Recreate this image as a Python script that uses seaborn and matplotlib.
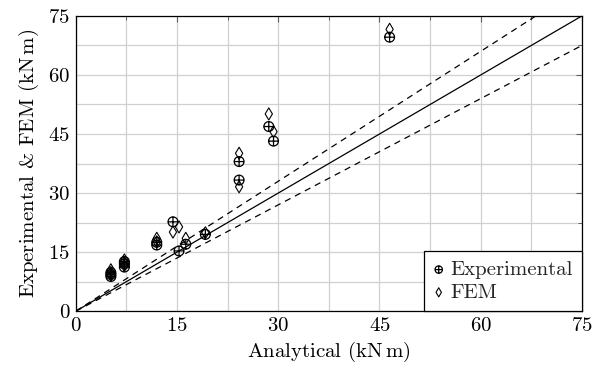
import numpy as np
import pandas as pd
import seaborn as sns
import matplotlib
matplotlib.use("Agg")
import matplotlib.pyplot as plt
from matplotlib.ticker import MultipleLocator
from matplotlib.path import Path

analytical = [5.2, 5.2, 5.2, 7.2, 7.2, 7.2, 12.0, 12.0, 14.4, 15.3, 16.3, 19.2, 24.2, 24.2, 28.6, 29.3, 46.5]
experimental = [8.8, 9.3, 9.8, 11.2, 12.0, 12.6, 16.8, 17.5, 22.7, 15.3, 17.0, 19.5, 38.0, 33.3, 46.9, 43.2, 69.6]
fem = [9.2, 9.8, 10.5, 11.6, 12.4, 13.0, 17.6, 18.5, 20.1, 21.4, 18.5, 19.9, 40.1, 31.6, 50.1, 45.6, 71.6]
ref_x = [0, 75]
ratios = [1.0, 1.1, 0.9]

sns.set_theme(style="whitegrid")
plt.rcParams['font.family'] = ['cmr10', 'DejaVu Serif']
plt.rcParams['mathtext.fontset'] = 'cm'
plt.rcParams['axes.formatter.use_mathtext'] = True

oplus = Path.make_compound_path(
    Path.unit_circle(),
    Path([[-1, 0], [1, 0]], [Path.MOVETO, Path.LINETO]),
    Path([[0, -1], [0, 1]], [Path.MOVETO, Path.LINETO]),
)

fig = plt.figure(figsize=(5.92, 3.70), dpi=100)
ax = fig.add_axes([0.128, 0.159, 0.855, 0.798])

for r in ratios:
    ys = [x * r for x in ref_x]
    sns.lineplot(x=ref_x, y=ys, ax=ax, color='black', lw=0.9,
                 linestyle='-' if r == 1.0 else (0, (5, 4)), zorder=2)

df = pd.DataFrame({'Analytical': analytical, 'Experimental': experimental, 'FEM': fem})
sns.scatterplot(data=df, x='Analytical', y='FEM', ax=ax, marker='d', s=38,
                facecolor='none', edgecolor='black', linewidth=0.8, label='FEM', zorder=3)
sns.scatterplot(data=df, x='Analytical', y='Experimental', ax=ax, marker=oplus, s=50,
                facecolor='none', edgecolor='black', linewidth=0.9, label='Experimental', zorder=4)

ax.set_xlim(0, 75)
ax.set_ylim(0, 75)
ax.xaxis.set_major_locator(MultipleLocator(15))
ax.yaxis.set_major_locator(MultipleLocator(15))
ax.xaxis.set_minor_locator(MultipleLocator(7.5))
ax.yaxis.set_minor_locator(MultipleLocator(7.5))
ax.grid(True, which='both', color='#d0d0d0', lw=0.9)
ax.set_axisbelow(True)
for s in ax.spines.values():
    s.set_color('black')
    s.set_linewidth(0.9)
ax.tick_params(which='both', direction='in', color='#606060', labelsize=15, pad=4,
               top=True, right=True, labelcolor='black')
ax.tick_params(which='major', length=4, width=0.8)
ax.tick_params(which='minor', length=3, width=0.7)
ax.set_xlabel('Analytical (kN$\\,$m)', fontsize=15, color='black', labelpad=4)
ax.set_ylabel('Experimental & FEM (kN$\\,$m)', fontsize=15, color='black', labelpad=5)

h, l = ax.get_legend_handles_labels()
order = [l.index('Experimental'), l.index('FEM')]
leg = ax.legend([h[i] for i in order], [l[i] for i in order], loc='lower right',
                fontsize=15, frameon=True, fancybox=False, borderaxespad=0,
                handlelength=0.5, handletextpad=0.3, borderpad=0.45, labelspacing=0.2,
                markerscale=0.75)
leg.get_frame().set_edgecolor('black')
leg.get_frame().set_linewidth(0.9)
leg.get_frame().set_alpha(1)

fig.savefig('out.png', dpi=100)
